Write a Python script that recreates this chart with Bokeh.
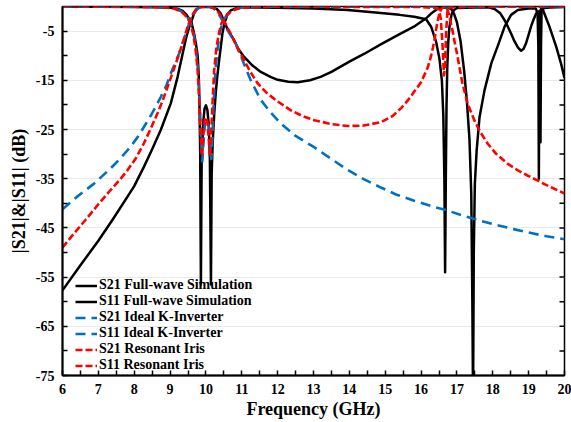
from bokeh.plotting import figure
from bokeh.models import Range1d, FixedTicker, Legend, LegendItem
from bokeh.embed import file_html
from bokeh.resources import INLINE

# ---------------- axes ----------------
x_ticks = [6, 7, 8, 9, 10, 11, 12, 13, 14, 15, 16, 17, 18, 19, 20]
x_tick_labels = ["6", "7", "8", "9", "10", "11", "12", "13", "14", "15", "16", "17", "18", "19", "20"]
x_minor_ticks = [6.5, 7.5, 8.5, 9.5, 10.5, 11.5, 12.5, 13.5, 14.5, 15.5, 16.5, 17.5, 18.5, 19.5]
y_ticks = [-75, -65, -55, -45, -35, -25, -15, -5]
y_tick_labels = ["-75", "-65", "-55", "-45", "-35", "-25", "-15", "-5"]
y_minor_ticks = [-70, -60, -50, -40, -30, -20, -10]
right_ticks = [-70, -65, -60, -55, -50, -45, -40, -35, -30, -25, -20, -15, -10, -5]

x_label = "Frequency (GHz)"
y_label = "|S21|&|S11| (dB)"

series_labels = ["S21 Full-wave Simulation", "S11 Full-wave Simulation",
                 "S21 Ideal K-Inverter", "S11 Ideal K-Inverter",
                 "S21 Resonant Iris", "S11 Resonant Iris"]

# ---------------- data (frequency GHz, dB) ----------------
s21_fullwave = [
    (6.0, -57.7), (6.5, -52.6), (7.0, -47.6), (7.4, -43.3), (7.8, -38.8), (8.0, -36.5),
    (8.27, -32.6), (8.5, -29.0), (8.74, -25.1), (9.02, -19.7), (9.21, -14.3), (9.35, -9.6),
    (9.45, -6.3), (9.53, -4.3), (9.6, -2.9), (9.67, -1.4), (9.75, -0.5), (9.85, -0.1),
    (10.0, -0.05), (10.15, -0.1), (10.3, -0.5), (10.4, -1.3), (10.5, -2.8), (10.6, -4.6),
    (10.79, -6.9), (10.9, -8.6), (11.06, -10.2), (11.3, -12.0), (11.53, -13.3), (11.8, -14.3),
    (12.0, -14.9), (12.3, -15.3), (12.56, -15.4), (12.9, -15.0), (13.2, -14.3), (13.5, -13.3),
    (14.0, -11.2), (14.42, -9.6), (14.9, -7.6), (15.35, -5.8), (15.8, -4.1), (16.14, -2.4),
    (16.3, -1.3), (16.45, -0.5), (16.6, -0.2), (16.75, -0.2), (16.85, -0.6), (16.92, -1.5),
    (17.0, -3.2), (17.1, -7.0), (17.2, -13.0), (17.28, -19.5), (17.35, -27.0), (17.4, -38.0),
    (17.43, -60.0), (17.45, -80.0), (17.47, -50.0), (17.5, -36.0), (17.55, -29.3), (17.63, -22.5),
    (17.77, -17.0), (17.96, -11.5), (18.14, -8.0), (18.33, -4.1), (18.51, -1.7), (18.7, -0.7),
    (18.98, -0.4), (19.2, -0.4), (19.25, -1.5), (19.27, -8.0), (19.285, -35.0), (19.3, -8.0),
    (19.32, -1.0), (19.36, -0.2), (19.4, -0.7), (19.58, -4.1), (19.77, -8.2), (19.9, -11.5),
    (20.0, -14.5),
]

s11_fullwave = [
    (6.0, -0.05), (7.0, -0.05), (8.0, -0.1), (8.6, -0.15), (9.0, -0.25), (9.2, -0.45),
    (9.35, -0.9), (9.45, -1.6), (9.53, -2.5), (9.6, -3.3), (9.67, -5.5), (9.72, -7.5),
    (9.77, -10.0), (9.8, -14.0), (9.82, -20.0), (9.84, -30.0), (9.86, -56.5), (9.88, -32.0),
    (9.92, -24.0), (9.96, -20.8), (10.0, -20.1), (10.04, -21.0), (10.08, -24.0), (10.11, -31.0),
    (10.14, -56.5), (10.16, -34.0), (10.19, -27.5), (10.23, -22.0), (10.28, -17.0), (10.32, -14.0),
    (10.37, -10.8), (10.41, -8.5), (10.46, -5.5), (10.52, -3.3), (10.6, -1.6), (10.69, -0.8),
    (10.85, -0.35), (11.06, -0.2), (12.0, -0.25), (13.0, -0.4), (13.95, -0.7), (14.88, -1.3),
    (15.4, -1.7), (15.81, -2.1), (16.14, -2.6), (16.28, -4.1), (16.42, -7.2), (16.51, -10.5),
    (16.58, -15.0), (16.62, -22.0), (16.65, -35.0), (16.67, -54.0), (16.69, -35.0), (16.71, -20.0),
    (16.73, -12.5), (16.76, -7.0), (16.79, -4.2), (16.85, -1.6), (16.92, -0.7), (17.0, -0.3),
    (17.5, -0.2), (17.9, -0.2), (18.05, -0.5), (18.2, -1.3), (18.33, -2.8), (18.42, -4.1),
    (18.51, -5.5), (18.6, -7.0), (18.7, -8.3), (18.79, -9.0), (18.86, -8.6), (18.93, -7.4),
    (19.0, -5.7), (19.07, -4.0), (19.14, -2.6), (19.21, -1.4), (19.27, -1.0), (19.3, -8.0),
    (19.33, -27.6), (19.345, -8.0), (19.36, -1.0), (19.42, -0.3), (19.6, -0.2), (20.0, -0.1),
]

s21_ideal = [
    (6.0, -41.2), (6.4, -38.7), (6.88, -36.0), (7.34, -32.9), (7.6, -31.0), (7.9, -28.5),
    (8.1, -26.5), (8.27, -24.5), (8.5, -21.7), (8.74, -18.4), (8.9, -16.0), (9.02, -13.6),
    (9.15, -11.3), (9.25, -9.6), (9.35, -7.4), (9.44, -5.5), (9.53, -3.5), (9.62, -2.0),
    (9.7, -1.0), (9.8, -0.3), (9.9, -0.05), (10.1, -0.05), (10.22, -0.4), (10.32, -1.2),
    (10.42, -2.3), (10.52, -3.6), (10.6, -4.8), (10.83, -7.5), (11.02, -10.9), (11.25, -15.0),
    (11.53, -19.0), (11.8, -21.5), (12.09, -23.8), (12.5, -26.3), (13.02, -28.6), (13.5, -31.0),
    (13.95, -33.2), (14.4, -35.1), (14.88, -36.8), (15.3, -38.2), (15.81, -39.5), (16.3, -40.6),
    (16.75, -41.5), (17.2, -42.6), (17.68, -43.6), (18.1, -44.4), (18.61, -45.3), (19.1, -46.1),
    (19.5, -46.7), (20.0, -47.3),
]

s11_ideal = [
    (6.0, 0.0), (8.0, -0.03), (8.8, -0.1), (9.1, -0.3), (9.3, -0.9), (9.4, -1.5),
    (9.5, -2.4), (9.58, -3.5), (9.65, -5.3), (9.72, -8.5), (9.78, -13.0), (9.83, -20.0),
    (9.87, -28.0), (9.9, -31.5), (9.93, -28.0), (9.97, -24.0), (10.02, -23.0), (10.07, -24.0),
    (10.11, -28.0), (10.15, -31.0), (10.18, -27.0), (10.22, -19.0), (10.27, -12.5), (10.33, -8.3),
    (10.39, -5.3), (10.45, -3.5), (10.52, -2.4), (10.62, -1.5), (10.72, -0.9), (10.9, -0.3),
    (11.2, -0.1), (12.0, -0.03), (20.0, 0.0),
]

s21_iris = [
    (6.0, -49.0), (6.3, -46.3), (6.64, -43.4), (7.0, -40.2), (7.34, -37.3), (7.6, -35.2),
    (7.81, -33.3), (8.05, -30.8), (8.27, -27.8), (8.45, -25.0), (8.65, -21.7), (8.8, -19.0),
    (8.93, -16.3), (9.05, -13.9), (9.16, -11.6), (9.26, -9.4), (9.35, -7.5), (9.42, -5.8),
    (9.49, -4.1), (9.56, -2.8), (9.64, -1.5), (9.72, -0.6), (9.82, -0.15), (9.95, -0.05),
    (10.1, -0.05), (10.25, -0.4), (10.35, -1.2), (10.45, -2.4), (10.55, -3.6), (10.69, -5.5),
    (10.85, -8.0), (11.06, -10.9), (11.25, -13.4), (11.44, -15.6), (11.7, -17.6), (12.0, -19.3),
    (12.37, -21.1), (12.7, -22.3), (13.02, -23.1), (13.5, -23.9), (13.95, -24.3), (14.4, -24.2),
    (14.88, -23.5), (15.2, -22.3), (15.45, -20.6), (15.63, -19.1), (15.8, -17.4), (16.0, -15.4),
    (16.1, -13.8), (16.19, -12.3), (16.27, -10.3), (16.33, -8.4), (16.38, -6.5), (16.42, -4.6),
    (16.47, -2.7), (16.52, -1.2), (16.58, -0.3), (16.65, -0.05), (16.72, -0.3), (16.77, -1.4),
    (16.82, -3.0), (16.88, -5.0), (16.93, -7.0), (17.0, -9.5), (17.07, -12.3), (17.15, -15.5),
    (17.3, -19.8), (17.49, -23.2), (17.65, -25.5), (17.86, -27.9), (18.1, -30.0), (18.42, -32.0),
    (18.7, -33.3), (18.98, -34.4), (19.2, -35.2), (19.44, -36.1), (19.7, -37.0), (20.0, -38.0),
]

s11_iris = [
    (6.0, 0.0), (8.0, -0.05), (8.8, -0.15), (9.1, -0.4), (9.3, -1.0), (9.4, -1.6),
    (9.5, -2.5), (9.57, -3.5), (9.64, -5.5), (9.71, -8.5), (9.77, -13.0), (9.82, -20.0),
    (9.86, -27.0), (9.89, -30.5), (9.92, -27.0), (9.96, -23.3), (10.0, -22.5), (10.04, -23.3),
    (10.08, -27.0), (10.11, -30.5), (10.14, -27.0), (10.18, -20.0), (10.23, -13.0), (10.29, -8.5),
    (10.36, -5.5), (10.43, -3.5), (10.5, -2.5), (10.6, -1.6), (10.7, -1.0), (10.9, -0.4),
    (11.2, -0.15), (12.0, -0.05), (16.0, -0.1), (16.4, -0.3), (16.5, -0.6), (16.55, -2.5),
    (16.6, -8.0), (16.64, -14.0), (16.67, -12.0), (16.7, -5.0), (16.74, -0.6), (16.8, -0.2),
    (17.5, -0.05), (20.0, 0.0),
]

# ---------------- figure ----------------
FONT = "Liberation Serif"
X_MIN, X_MAX = 6, 20
Y_MIN, Y_MAX = -75, 0

p = figure(width=571, height=422, output_backend="svg", toolbar_location=None,
           x_range=Range1d(X_MIN, X_MAX), y_range=Range1d(Y_MIN, Y_MAX),
           min_border_left=62, min_border_right=7, min_border_top=6, min_border_bottom=47,
           background_fill_color="white", border_fill_color="white",
           outline_line_color="black", outline_line_width=1.5)

p.xgrid.visible = False
p.ygrid.ticker = FixedTicker(ticks=y_ticks[1:])
p.ygrid.grid_line_color = "#e9e9e9"
p.ygrid.grid_line_width = 1

xa = p.xaxis[0]
ya = p.yaxis[0]
xa.ticker = FixedTicker(ticks=x_ticks, minor_ticks=x_minor_ticks)
xa.major_label_overrides = dict(zip(x_ticks, x_tick_labels))
ya.ticker = FixedTicker(ticks=y_ticks, minor_ticks=y_minor_ticks)
ya.major_label_overrides = dict(zip(y_ticks, y_tick_labels))
xa.axis_label = x_label
ya.axis_label = y_label

for ax in (xa, ya):
    ax.axis_line_color = "black"
    ax.axis_line_width = 2
    ax.major_tick_in = 5
    ax.major_tick_out = 0
    ax.minor_tick_in = 5
    ax.minor_tick_out = 0
    ax.major_tick_line_color = "black"
    ax.minor_tick_line_color = "black"
    ax.major_tick_line_width = 1.5
    ax.minor_tick_line_width = 1.5
    ax.major_label_text_font = FONT
    ax.major_label_text_font_style = "bold"
    ax.major_label_text_font_size = "14px"
    ax.major_label_text_color = "black"
    ax.axis_label_text_font = FONT
    ax.axis_label_text_font_style = "bold"
    ax.axis_label_text_font_size = "18px"
    ax.axis_label_text_color = "black"

xa.major_label_standoff = 8
xa.axis_label_standoff = 2
ya.major_label_standoff = 8
ya.axis_label_standoff = 4

# inward tick marks along the right edge of the frame
p.scatter(x=[X_MAX] * len(right_ticks), y=right_ticks, marker="dash", size=10,
          line_color="black", line_width=1.5)

styles = [
    dict(line_color="black", line_width=2.5),
    dict(line_color="black", line_width=2.5),
    dict(line_color="#0070C0", line_width=2.6, line_dash="10 6"),
    dict(line_color="#0070C0", line_width=2.6, line_dash="10 6"),
    dict(line_color="#FF0000", line_width=2.6, line_dash="7 3"),
    dict(line_color="#FF0000", line_width=2.6, line_dash="7 3"),
]
all_series = [s21_fullwave, s11_fullwave, s21_ideal, s11_ideal, s21_iris, s11_iris]

items = []
for data, st, lab in zip(all_series, styles, series_labels):
    fx = [d[0] for d in data]
    fy = [d[1] for d in data]
    r = p.line(fx, fy, line_join="round", **st)
    items.append(LegendItem(label=lab, renderers=[r]))

legend = Legend(items=items, location=(13, 2), padding=0, margin=0, spacing=0,
                glyph_width=22, glyph_height=15, label_height=15, label_standoff=2,
                background_fill_alpha=0, border_line_alpha=0,
                label_text_font=FONT, label_text_font_style="bold",
                label_text_font_size="14px", label_text_color="black")
p.add_layout(legend, "center")

open("out.html", "w").write(file_html(p, INLINE))
